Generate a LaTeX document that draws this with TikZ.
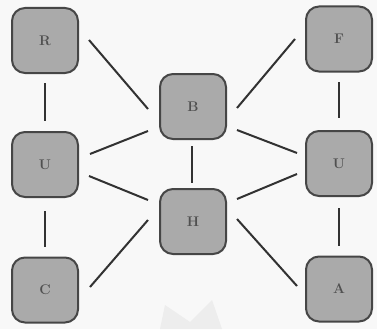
\documentclass[tikz,border=0pt]{standalone}
\usepackage{fontspec}
\usetikzlibrary{calc}
\definecolor{boxfill}{RGB}{170,170,170}
\definecolor{boxline}{RGB}{70,70,70}
\definecolor{edgecol}{RGB}{50,50,50}
\definecolor{txtcol}{RGB}{80,80,80}
\definecolor{bgcol}{RGB}{248,248,248}
\begin{document}
\begin{tikzpicture}[x=1pt,y=-1pt,
  tile/.style={draw=boxline, line width=2pt, fill=boxfill, rounded corners=13pt,
    minimum width=66pt, minimum height=65pt, inner sep=0pt,
    font=\fontsize{14}{14}\selectfont\bfseries, text=txtcol},
  link/.style={draw=edgecol, line width=2pt}]
\fill[bgcol] (0,0) rectangle (377,329);
\useasboundingbox (0,0) rectangle (377,329);
\fill[black!7] (160,329) -- (165,305) -- (190,322) -- (212,300) -- (222,329) -- cycle;
\node[tile] (R) at (45,40.5) {R};
\node[tile] (UL) at (45,164.5) {U};
\node[tile] (C) at (45,290) {C};
\node[tile] (B) at (193,106.5) {B};
\node[tile] (H) at (193,221.5) {H};
\node[tile] (F) at (339,39) {F};
\node[tile] (UR) at (339,163.5) {U};
\node[tile] (A) at (339,289) {A};
\draw[link] ($(R)+(0,42.5)$) -- ($(UL)+(0,-43.5)$);
\draw[link] ($(UL)+(0,46.5)$) -- ($(C)+(0,-43)$);
\draw[link] ($(R)+(44,-0.5)$) -- ($(B)+(-45,2.5)$);
\draw[link] ($(UL)+(45,-10.5)$) -- ($(B)+(-45,24.5)$);
\draw[link] ($(UL)+(44,11.5)$) -- ($(H)+(-45,-21.5)$);
\draw[link] ($(C)+(45,-3)$) -- ($(H)+(-45,-1.5)$);
\draw[link] ($(B)+(-1,39.5)$) -- ($(H)+(-1,-38.5)$);
\draw[link] ($(B)+(44,1.5)$) -- ($(F)+(-44,0)$);
\draw[link] ($(B)+(44,23.5)$) -- ($(UR)+(-42,-10.5)$);
\draw[link] ($(H)+(44,-22.5)$) -- ($(UR)+(-42,10.5)$);
\draw[link] ($(H)+(44,-2.5)$) -- ($(A)+(-42,-3)$);
\draw[link] ($(F)+(0,43)$) -- ($(UR)+(0,-45.5)$);
\draw[link] ($(UR)+(0,44.5)$) -- ($(A)+(0,-43)$);
\end{tikzpicture}
\end{document}
